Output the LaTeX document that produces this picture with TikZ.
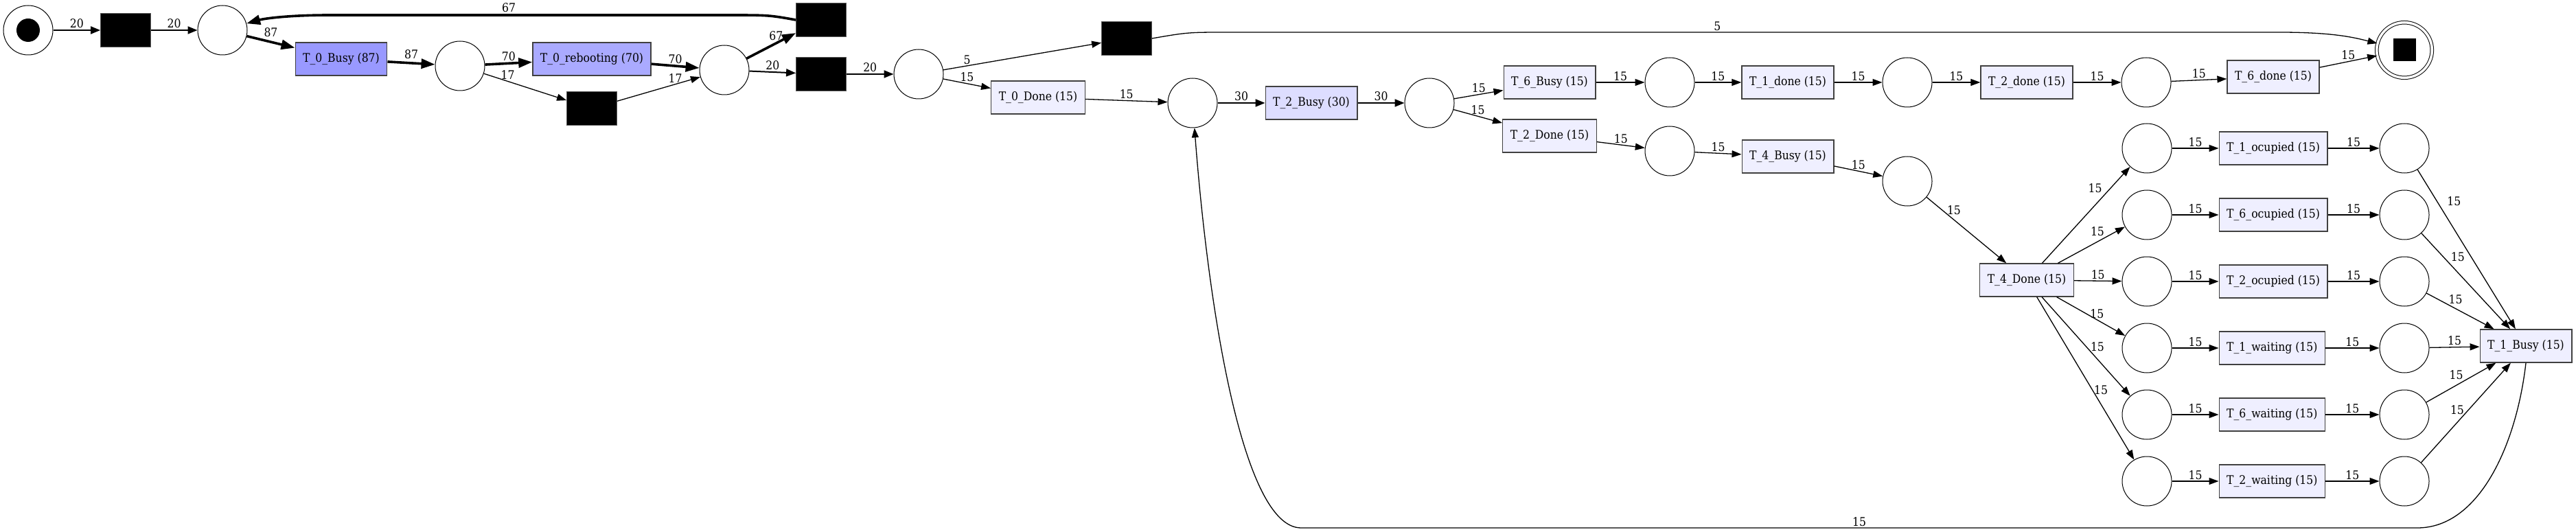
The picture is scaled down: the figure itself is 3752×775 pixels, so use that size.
\documentclass[tikz,border=0pt]{standalone}
\usepackage{fontspec}
\setmainfont{DejaVu Serif}[FakeStretch=0.9]
\usepackage{xcolor}
\usepackage{tikz}
\usetikzlibrary{arrows.meta,positioning}

\definecolor{hiBusy}{HTML}{9999FF}
\definecolor{hiReboot}{HTML}{AAAAFF}
\definecolor{midBusy}{HTML}{DDDDFF}
\definecolor{lowFill}{HTML}{EFEFFF}

\begin{document}
\begin{tikzpicture}[
    x=0.5pt, y=-0.5pt, node distance=12pt,
    every node/.style={font=\fontsize{8.7}{10}\selectfont},
    place/.style={draw, circle, minimum size=36pt, inner sep=0pt, line width=0.5pt},
    token/.style={circle, fill=black, minimum size=17pt, inner sep=0pt},
    trans/.style={draw=black!75, fill=lowFill, line width=0.65pt, minimum height=24pt, inner xsep=5.5pt, inner ysep=0pt},
    silent/.style={draw=black!65, fill=black, minimum width=36.5pt, minimum height=24.5pt, inner sep=0pt},
    lbl/.style={inner sep=1pt},
    arr/.style={-{Triangle[length=7pt,width=5pt]}, line width=0.65pt},
    arrm/.style={-{Triangle[length=7pt,width=5.5pt]}, line width=1pt},
    arrb/.style={-{Triangle[length=10pt,width=7pt]}, line width=1.8pt}
  ]
    \useasboundingbox (0,0) rectangle (3752,775);

    \node[place] (start) at (41,44) {};
    \node[token] (tok) at (start) {};
    \node[silent] (s1) at (183,44) {};
    \node[place] (p1) at (324,44) {};
    \node[trans, fill=hiBusy] (t0b) at (497,86) {T\_0\_Busy (87)};
    \node[place] (p2) at (670,96) {};
    \node[trans, fill=hiReboot] (t0r) at (862,86) {T\_0\_rebooting (70)};
    \node[silent] (s2) at (862,158) {};
    \node[place] (p3) at (1055,102) {};
    \node[silent] (s3) at (1196,29) {};
    \node[silent] (s4) at (1196,108) {};
    \node[place] (p4) at (1338,108) {};
    \node[silent] (s5) at (1641,56) {};
    \node[trans] (t0d) at (1512,142) {T\_0\_Done (15)};
    \node[place] (p5) at (1737,150) {};
    \node[trans, fill=midBusy] (t2b) at (1910,150) {T\_2\_Busy (30)};
    \node[place] (p6) at (2082,150) {};

    \node[trans] (t6b) at (2257,120) {T\_6\_Busy (15)};
    \node[place] (p7) at (2432,120) {};
    \node[trans] (t1d) at (2604,120) {T\_1\_done (15)};
    \node[place] (p8) at (2778,120) {};
    \node[trans] (t2d) at (2952,120) {T\_2\_done (15)};
    \node[place] (p11) at (3126,120) {};
    \node[trans] (t6d) at (3311,112) {T\_6\_done (15)};
    \node[place, double, double distance=1.8pt, minimum size=40.25pt] (end) at (3502,73) {};
    \node[fill=black, minimum size=16.5pt, inner sep=0pt] (endtok) at (end) {};

    \node[trans] (t2D) at (2257,198) {T\_2\_Done (15)};
    \node[place] (p9) at (2432,220) {};
    \node[trans] (t4b) at (2604,228) {T\_4\_Busy (15)};
    \node[place] (p10) at (2778,264) {};
    \node[trans] (t4D) at (2952,408) {T\_4\_Done (15)};

    \node[place] (a1) at (3127,216) {};
    \node[place, below=of a1] (a2) {};
    \node[place, below=of a2] (a3) {};
    \node[place, below=of a3] (a4) {};
    \node[place, below=of a4] (a5) {};
    \node[place, below=of a5] (a6) {};
    \node[place] (b1) at (3502,216) {};
    \node[place, below=of b1] (b2) {};
    \node[place, below=of b2] (b3) {};
    \node[place, below=of b3] (b4) {};
    \node[place, below=of b4] (b5) {};
    \node[place, below=of b5] (b6) {};
    \node[trans, right=34pt of a1] (t1o) {T\_1\_ocupied (15)};
    \node[trans, right=34pt of a2] (t6o) {T\_6\_ocupied (15)};
    \node[trans, right=34pt of a3] (t2o) {T\_2\_ocupied (15)};
    \node[trans, right=34pt of a4] (t1w) {T\_1\_waiting (15)};
    \node[trans, right=34pt of a5] (t6w) {T\_6\_waiting (15)};
    \node[trans, right=34pt of a6] (t2w) {T\_2\_waiting (15)};
    \node[trans] (t1B) at (3679,504) {T\_1\_Busy (15)};

    % start and reboot part
    \draw[arrm] (start) -- node[lbl, above] {20} (s1);
    \draw[arrm] (s1) -- node[lbl, above] {20} (p1);
    \draw[arrb] (p1) -- node[lbl, above=2pt] {87} (t0b);
    \draw[arrb] (t0b) -- node[lbl, above=1pt] {87} (p2);
    \draw[arrb] (p2) -- node[lbl, above] {70} (t0r);
    \draw[arr] (p2) -- node[lbl, above, pos=0.29] {17} (s2);
    \draw[arrb] (t0r) -- node[lbl, above] {70} (p3);
    \draw[arr] (s2) -- node[lbl, above, pos=0.7] {17} (p3);
    \draw[arrb] (p3) -- node[lbl, above, pos=0.6] {67} (s3);
    \draw[arrm] (p3) -- node[lbl, above] {20} (s4);
    \draw[arrm] (s4) -- node[lbl, above] {20} (p4);
    \draw[arrb] (s3.west) .. controls (1120,22) .. (1060,22) -- node[lbl, above, pos=0.55] {67} (480,22) .. controls (420,22) and (385,27) .. (p1);

    % main line
    \draw[arr] (p4) -- node[lbl, above, pos=0.15] {5} (s5);
    \draw[arr] (s5.east) .. controls (1730,47) .. (1790,47) -- node[lbl, above, pos=0.465] {5} (3320,47) .. controls (3400,47) and (3430,55) .. (end);
    \draw[arr] (p4) -- node[lbl, above] {15} (t0d);
    \draw[arr] (t0d) -- node[lbl, above] {15} (p5);
    \draw[arrm] (p5) -- node[lbl, above] {30} (t2b);
    \draw[arrm] (t2b) -- node[lbl, above] {30} (p6);
    \draw[arr] (p6) -- node[lbl, above] {15} (t6b);
    \draw[arr] (p6) -- node[lbl, above] {15} (t2D);
    \draw[arr] (t6b) -- node[lbl, above] {15} (p7);
    \draw[arr] (p7) -- node[lbl, above] {15} (t1d);
    \draw[arr] (t1d) -- node[lbl, above] {15} (p8);
    \draw[arr] (p8) -- node[lbl, above] {15} (t2d);
    \draw[arr] (t2d) -- node[lbl, above] {15} (p11);
    \draw[arr] (p11) -- node[lbl, above] {15} (t6d);
    \draw[arr] (t6d) -- node[lbl, above] {15} (end);
    \draw[arr] (t2D) -- node[lbl, above] {15} (p9);
    \draw[arr] (p9) -- node[lbl, above] {15} (t4b);
    \draw[arr] (t4b) -- node[lbl, above] {15} (p10);
    \draw[arr] (p10) -- node[lbl, right=2pt, pos=0.2] {15} (t4D);

    % fan out of T_4_Done
    \draw[arr] (t4D) -- node[lbl, left=5pt, pos=0.78] {15} (a1);
    \draw[arr] (t4D) -- node[lbl, above=3pt, pos=0.59] {15} (a2);
    \draw[arr] (t4D) -- node[lbl, above] {15} (a3);
    \draw[arr] (t4D) -- node[lbl, above, pos=0.59] {15} (a4);
    \draw[arr] (t4D) -- node[lbl, right=2pt, pos=0.5] {15} (a5);
    \draw[arr] (t4D) -- node[lbl, right, pos=0.57] {15} (a6);
    \draw[arr] (a1) -- node[lbl, above] {15} (t1o);
    \draw[arr] (a2) -- node[lbl, above] {15} (t6o);
    \draw[arr] (a3) -- node[lbl, above] {15} (t2o);
    \draw[arr] (a4) -- node[lbl, above] {15} (t1w);
    \draw[arr] (a5) -- node[lbl, above] {15} (t6w);
    \draw[arr] (a6) -- node[lbl, above] {15} (t2w);
    \draw[arr] (t1o) -- node[lbl, above] {15} (b1);
    \draw[arr] (t6o) -- node[lbl, above] {15} (b2);
    \draw[arr] (t2o) -- node[lbl, above] {15} (b3);
    \draw[arr] (t1w) -- node[lbl, above] {15} (b4);
    \draw[arr] (t6w) -- node[lbl, above] {15} (b5);
    \draw[arr] (t2w) -- node[lbl, above] {15} (b6);

    % join into T_1_Busy
    \draw[arr] (b1) -- node[lbl, right=6pt, pos=0.2] {15} (t1B);
    \draw[arr] (b2) -- node[lbl, right=4pt, pos=0.25] {15} (t1B);
    \draw[arr] (b3) -- node[lbl, above=2pt, pos=0.43] {15} (t1B);
    \draw[arr] (b4) -- node[lbl, above] {15} (t1B);
    \draw[arr] (b5) -- node[lbl, above=3pt, pos=0.43] {15} (t1B);
    \draw[arr] (b6) -- node[lbl, left=2pt, pos=0.53] {15} (t1B);

    % back to T_2_Busy
    \draw[arr] (t1B.south) .. controls (3665,650) and (3610,769) .. (3521,769) -- node[lbl, above] {15} (1895,769) .. controls (1810,769) and (1760,450) .. (p5);

  \end{tikzpicture}
\end{document}
